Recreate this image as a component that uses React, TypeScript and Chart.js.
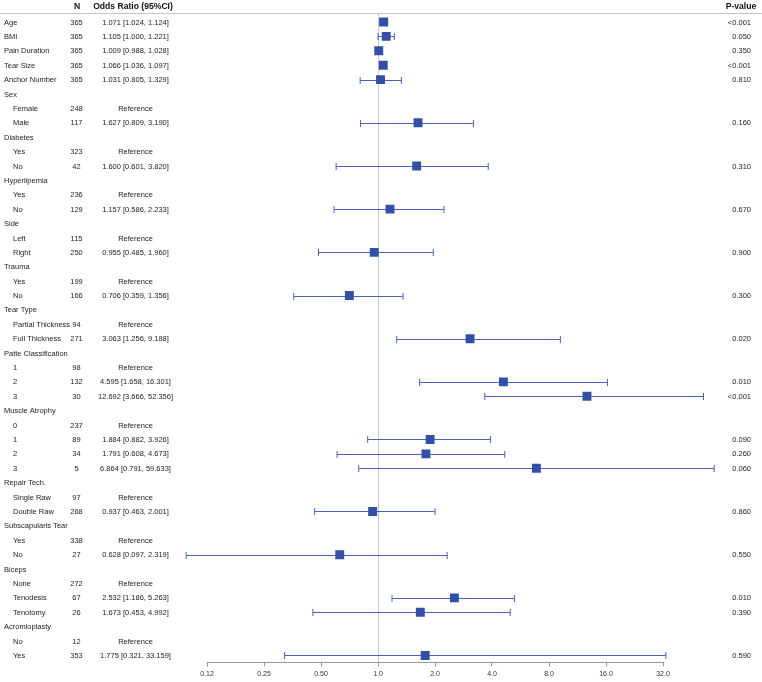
import React, { useEffect, useRef } from "react";
import { Chart, registerables } from "chart.js";

Chart.register(...registerables);

const rowLabels: string[] = [
  "Age", "BMI", "Pain Duration", "Tear Size", "Anchor Number",
  "Sex", "Female", "Male",
  "Diabetes", "Yes", "No",
  "Hyperlipemia", "Yes", "No",
  "Side", "Left", "Right",
  "Trauma", "Yes", "No",
  "Tear Type", "Partial Thickness", "Full Thickness",
  "Patte Classification", "1", "2", "3",
  "Muscle Atrophy", "0", "1", "2", "3",
  "Repair Tech.", "Single Raw", "Double Raw",
  "Subscapularis Tear", "Yes", "No",
  "Biceps", "None", "Tenodesis", "Tenotomy",
  "Acromioplasty", "No", "Yes",
];

// 0 = variable / group heading, 1 = level within a group
const rowLevel: number[] = [
  0, 0, 0, 0, 0,
  0, 1, 1,
  0, 1, 1,
  0, 1, 1,
  0, 1, 1,
  0, 1, 1,
  0, 1, 1,
  0, 1, 1, 1,
  0, 1, 1, 1, 1,
  0, 1, 1,
  0, 1, 1,
  0, 1, 1, 1,
  0, 1, 1,
];

const counts: string[] = [
  "365", "365", "365", "365", "365",
  "", "248", "117",
  "", "323", "42",
  "", "236", "129",
  "", "115", "250",
  "", "199", "166",
  "", "94", "271",
  "", "98", "132", "30",
  "", "237", "89", "34", "5",
  "", "97", "268",
  "", "338", "27",
  "", "272", "67", "26",
  "", "12", "353",
];

const ciTexts: string[] = [
  "1.071 [1.024, 1.124]", "1.105 [1.000, 1.221]", "1.009 [0.988, 1.028]", "1.066 [1.036, 1.097]", "1.031 [0.805, 1.329]",
  "", "Reference", "1.627 [0.809, 3.190]",
  "", "Reference", "1.600 [0.601, 3.820]",
  "", "Reference", "1.157 [0.586, 2.233]",
  "", "Reference", "0.955 [0.485, 1.960]",
  "", "Reference", "0.706 [0.359, 1.356]",
  "", "Reference", "3.063 [1.256, 9.188]",
  "", "Reference", "4.595 [1.658, 16.301]", "12.692 [3.666, 52.356]",
  "", "Reference", "1.884 [0.882, 3.926]", "1.791 [0.608, 4.673]", "6.864 [0.791, 59.633]",
  "", "Reference", "0.937 [0.463, 2.001]",
  "", "Reference", "0.628 [0.097, 2.319]",
  "", "Reference", "2.532 [1.186, 5.263]", "1.673 [0.453, 4.992]",
  "", "Reference", "1.775 [0.321, 33.159]",
];

const oddsRatios: (number | null)[] = [
  1.071, 1.105, 1.009, 1.066, 1.031,
  null, null, 1.627,
  null, null, 1.6,
  null, null, 1.157,
  null, null, 0.955,
  null, null, 0.706,
  null, null, 3.063,
  null, null, 4.595, 12.692,
  null, null, 1.884, 1.791, 6.864,
  null, null, 0.937,
  null, null, 0.628,
  null, null, 2.532, 1.673,
  null, null, 1.775,
];

const ciLow: (number | null)[] = [
  1.024, 1.0, 0.988, 1.036, 0.805,
  null, null, 0.809,
  null, null, 0.601,
  null, null, 0.586,
  null, null, 0.485,
  null, null, 0.359,
  null, null, 1.256,
  null, null, 1.658, 3.666,
  null, null, 0.882, 0.608, 0.791,
  null, null, 0.463,
  null, null, 0.097,
  null, null, 1.186, 0.453,
  null, null, 0.321,
];

const ciHigh: (number | null)[] = [
  1.124, 1.221, 1.028, 1.097, 1.329,
  null, null, 3.19,
  null, null, 3.82,
  null, null, 2.233,
  null, null, 1.96,
  null, null, 1.356,
  null, null, 9.188,
  null, null, 16.301, 52.356,
  null, null, 3.926, 4.673, 59.633,
  null, null, 2.001,
  null, null, 2.319,
  null, null, 5.263, 4.992,
  null, null, 33.159,
];

const pValues: string[] = [
  "<0.001", "0.050", "0.350", "<0.001", "0.810",
  "", "", "0.160",
  "", "", "0.310",
  "", "", "0.670",
  "", "", "0.900",
  "", "", "0.300",
  "", "", "0.020",
  "", "", "0.010", "<0.001",
  "", "", "0.090", "0.260", "0.060",
  "", "", "0.860",
  "", "", "0.550",
  "", "", "0.010", "0.390",
  "", "", "0.590",
];

const headers: string[] = ["N", "Odds Ratio (95%CI)", "P-value"];

const xTickValues: number[] = [0.125, 0.25, 0.5, 1, 2, 4, 8, 16, 32];
const xTickLabels: string[] = ["0.12", "0.25", "0.50", "1.0", "2.0", "4.0", "8.0", "16.0", "32.0"];

const FONT = "'Liberation Sans', Arial, Helvetica, sans-serif";
const SQUARE = "#3450a6";
const WHISKER = "#4d62c0";

const forestPlugin = {
  id: "forestPlugin",
  beforeDatasetsDraw(chart: any) {
    const { ctx, scales, chartArea } = chart;
    const xs = scales.x;
    const ys = scales.y;
    ctx.save();
    // reference line at OR = 1
    const x1 = Math.round(xs.getPixelForValue(1)) + 0.5;
    ctx.strokeStyle = "#c8c8c8";
    ctx.lineWidth = 1;
    ctx.beginPath();
    ctx.moveTo(x1, 14);
    ctx.lineTo(x1, chartArea.bottom);
    ctx.stroke();
    // whiskers
    ctx.strokeStyle = WHISKER;
    ctx.lineWidth = 1;
    for (let i = 0; i < rowLabels.length; i++) {
      const lo = ciLow[i];
      const hi = ciHigh[i];
      if (lo == null || hi == null) continue;
      const y = Math.round(ys.getPixelForValue(i)) + 0.5;
      const a = xs.getPixelForValue(lo);
      const b = xs.getPixelForValue(hi);
      ctx.beginPath();
      ctx.moveTo(a, y);
      ctx.lineTo(b, y);
      ctx.moveTo(a, y - 3.5);
      ctx.lineTo(a, y + 3.5);
      ctx.moveTo(b, y - 3.5);
      ctx.lineTo(b, y + 3.5);
      ctx.stroke();
    }
    ctx.restore();
  },
  afterDraw(chart: any) {
    const { ctx, scales, width } = chart;
    const ys = scales.y;
    ctx.save();
    // header line
    ctx.strokeStyle = "#c4c4c4";
    ctx.lineWidth = 1;
    ctx.beginPath();
    ctx.moveTo(0, 13.5);
    ctx.lineTo(width, 13.5);
    ctx.stroke();
    // headers
    ctx.fillStyle = "#111";
    ctx.textBaseline = "middle";
    ctx.font = `bold 8.6px ${FONT}`;
    ctx.textAlign = "center";
    ctx.fillText(headers[0], 77, 7);
    ctx.fillText(headers[1], 133, 7);
    ctx.fillText(headers[2], 741, 7);
    // rows
    ctx.font = `7.5px ${FONT}`;
    ctx.fillStyle = "#1c1c1c";
    for (let i = 0; i < rowLabels.length; i++) {
      const y = ys.getPixelForValue(i) + 0.5;
      ctx.textAlign = "left";
      ctx.fillText(rowLabels[i], rowLevel[i] ? 13 : 4, y);
      ctx.textAlign = "center";
      if (counts[i]) ctx.fillText(counts[i], 76.5, y);
      if (ciTexts[i]) ctx.fillText(ciTexts[i], 135.5, y);
      ctx.textAlign = "right";
      if (pValues[i]) ctx.fillText(pValues[i], 751, y);
    }
    ctx.restore();
  },
};

export default function App() {
  const canvasRef = useRef<HTMLCanvasElement | null>(null);

  useEffect(() => {
    if (!canvasRef.current) return;
    const points: { x: number; y: number }[] = [];
    oddsRatios.forEach((v, i) => {
      if (v != null) points.push({ x: v, y: i });
    });
    const chart = new Chart(canvasRef.current, {
      type: "scatter",
      data: {
        datasets: [
          {
            data: points,
            pointStyle: "rect",
            pointRadius: 6.3,
            pointHoverRadius: 6.3,
            backgroundColor: SQUARE,
            borderColor: SQUARE,
            borderWidth: 0,
          },
        ],
      },
      options: {
        animation: false,
        responsive: true,
        maintainAspectRatio: false,
        layout: { padding: { left: 207, right: 99, top: 14, bottom: 0 } },
        plugins: { legend: { display: false }, tooltip: { enabled: false } },
        scales: {
          x: {
            type: "logarithmic",
            min: 0.125,
            max: 32,
            position: "bottom",
            afterBuildTicks: (s: any) => {
              s.ticks = xTickValues.map((v) => ({ value: v }));
            },
            afterFit: (s: any) => {
              s.height = 19.5;
            },
            ticks: {
              autoSkip: false,
              maxRotation: 0,
              padding: 3.5,
              color: "#333",
              font: { size: 7, family: FONT },
              callback: (_v: any, idx: number) => xTickLabels[idx],
            },
            grid: { drawOnChartArea: false, drawTicks: true, tickLength: 4, color: "#999" },
            border: { display: true, color: "#999", width: 1 },
          },
          y: {
            type: "linear",
            display: false,
            reverse: true,
            min: -0.556,
            max: 44.49,
          },
        },
      },
      plugins: [forestPlugin],
    });
    return () => chart.destroy();
  }, []);

  return (
    <div style={{ position: "absolute", left: 0, top: 0, width: 762, height: 682, background: "#fff" }}>
      <canvas ref={canvasRef} />
    </div>
  );
}
